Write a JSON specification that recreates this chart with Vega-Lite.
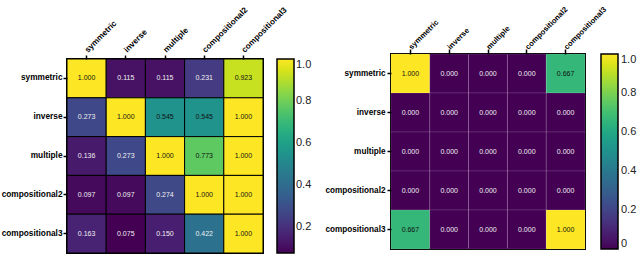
{
  "$schema": "https://vega.github.io/schema/vega-lite/v6.json",
  "padding": {"left": 0, "top": 0, "right": 0, "bottom": 0},
  "background": "white",
  "config": {
    "font": "Liberation Sans",
    "view": {"stroke": "black", "strokeWidth": 2},
    "axis": {"labelFont": "Liberation Sans", "labelFontWeight": "bold", "labelColor": "black", "tickColor": "black", "tickWidth": 1.5, "domain": false, "title": null, "grid": false},
    "legend": {"labelFont": "Liberation Sans", "labelFontSize": 11, "labelColor": "#222", "gradientStrokeColor": "black", "gradientStrokeWidth": 1.5, "gradientThickness": 17, "gradientLength": 195, "labelOffset": 5, "padding": 0, "title": null}
  },
  "datasets": {
    "left": [
      {"row": "symmetric", "col": "symmetric", "v": 1.000},
      {"row": "symmetric", "col": "inverse", "v": 0.115},
      {"row": "symmetric", "col": "multiple", "v": 0.115},
      {"row": "symmetric", "col": "compositional2", "v": 0.231},
      {"row": "symmetric", "col": "compositional3", "v": 0.923},
      {"row": "inverse", "col": "symmetric", "v": 0.273},
      {"row": "inverse", "col": "inverse", "v": 1.000},
      {"row": "inverse", "col": "multiple", "v": 0.545},
      {"row": "inverse", "col": "compositional2", "v": 0.545},
      {"row": "inverse", "col": "compositional3", "v": 1.000},
      {"row": "multiple", "col": "symmetric", "v": 0.136},
      {"row": "multiple", "col": "inverse", "v": 0.273},
      {"row": "multiple", "col": "multiple", "v": 1.000},
      {"row": "multiple", "col": "compositional2", "v": 0.773},
      {"row": "multiple", "col": "compositional3", "v": 1.000},
      {"row": "compositional2", "col": "symmetric", "v": 0.097},
      {"row": "compositional2", "col": "inverse", "v": 0.097},
      {"row": "compositional2", "col": "multiple", "v": 0.274},
      {"row": "compositional2", "col": "compositional2", "v": 1.000},
      {"row": "compositional2", "col": "compositional3", "v": 1.000},
      {"row": "compositional3", "col": "symmetric", "v": 0.163},
      {"row": "compositional3", "col": "inverse", "v": 0.075},
      {"row": "compositional3", "col": "multiple", "v": 0.150},
      {"row": "compositional3", "col": "compositional2", "v": 0.422},
      {"row": "compositional3", "col": "compositional3", "v": 1.000}
    ],
    "right": [
      {"row": "symmetric", "col": "symmetric", "v": 1.000},
      {"row": "symmetric", "col": "inverse", "v": 0},
      {"row": "symmetric", "col": "multiple", "v": 0},
      {"row": "symmetric", "col": "compositional2", "v": 0},
      {"row": "symmetric", "col": "compositional3", "v": 0.667},
      {"row": "inverse", "col": "symmetric", "v": 0},
      {"row": "inverse", "col": "inverse", "v": 0},
      {"row": "inverse", "col": "multiple", "v": 0},
      {"row": "inverse", "col": "compositional2", "v": 0},
      {"row": "inverse", "col": "compositional3", "v": 0},
      {"row": "multiple", "col": "symmetric", "v": 0},
      {"row": "multiple", "col": "inverse", "v": 0},
      {"row": "multiple", "col": "multiple", "v": 0},
      {"row": "multiple", "col": "compositional2", "v": 0},
      {"row": "multiple", "col": "compositional3", "v": 0},
      {"row": "compositional2", "col": "symmetric", "v": 0},
      {"row": "compositional2", "col": "inverse", "v": 0},
      {"row": "compositional2", "col": "multiple", "v": 0},
      {"row": "compositional2", "col": "compositional2", "v": 0},
      {"row": "compositional2", "col": "compositional3", "v": 0},
      {"row": "compositional3", "col": "symmetric", "v": 0.667},
      {"row": "compositional3", "col": "inverse", "v": 0},
      {"row": "compositional3", "col": "multiple", "v": 0},
      {"row": "compositional3", "col": "compositional2", "v": 0},
      {"row": "compositional3", "col": "compositional3", "v": 1.000}
    ],
    "none": []
  },
  "spacing": 10,
  "hconcat": [
    {
      "spacing": 0,
      "resolve": {"scale": {"color": "independent"}, "legend": {"color": "independent"}},
      "vconcat": [
        {
          "width": 10,
          "height": 1,
          "view": {"stroke": null},
          "data": {"name": "none"},
          "mark": {"type": "rule"},
          "encoding": {}
        },
        {
          "width": 196,
          "height": 194,
          "data": {"name": "left"},
          "encoding": {
            "x": {"field": "col", "type": "nominal", "sort": ["symmetric", "inverse", "multiple", "compositional2", "compositional3"], "axis": {"orient": "top", "labelAngle": -45, "labelAlign": "left", "labelBaseline": "middle", "labelFontSize": 8.2, "tickSize": 4, "labelPadding": 4, "minExtent": 57, "maxExtent": 57}},
            "y": {"field": "row", "type": "nominal", "sort": ["symmetric", "inverse", "multiple", "compositional2", "compositional3"], "axis": {"labelFontSize": 8.3, "tickSize": 4, "labelPadding": 1}}
          },
          "layer": [
            {
              "mark": {"type": "rect", "stroke": "black", "strokeWidth": 1},
              "encoding": {
                "color": {"field": "v", "type": "quantitative", "scale": {"scheme": "viridis", "domain": [0.075, 1]}, "legend": {"offset": 14, "values": [0.2, 0.4, 0.6, 0.8, 1.0], "format": ".1f", "gradientLength": 194}}
              }
            },
            {
              "mark": {"type": "text", "fontSize": 7},
              "encoding": {
                "text": {"field": "v", "type": "quantitative", "format": ".3f"},
                "color": {"condition": {"test": "datum.v > 0.5", "value": "#111111"}, "value": "#f0f0f0"}
              }
            }
          ]
        }
      ]
    },
    {
      "spacing": 0,
      "resolve": {"scale": {"color": "independent"}, "legend": {"color": "independent"}},
      "vconcat": [
        {
          "width": 10,
          "height": 1,
          "view": {"stroke": null},
          "data": {"name": "none"},
          "mark": {"type": "rule"},
          "encoding": {}
        },
        {
          "width": 194,
          "height": 195,
          "data": {"name": "right"},
          "encoding": {
            "x": {"field": "col", "type": "nominal", "sort": ["symmetric", "inverse", "multiple", "compositional2", "compositional3"], "axis": {"orient": "top", "labelAngle": -45, "labelAlign": "left", "labelBaseline": "middle", "labelFontSize": 7.7, "tickSize": 5, "labelPadding": 1, "minExtent": 52, "maxExtent": 52}},
            "y": {"field": "row", "type": "nominal", "sort": ["symmetric", "inverse", "multiple", "compositional2", "compositional3"], "axis": {"labelFontSize": 8.2, "tickSize": 4, "labelPadding": 2}}
          },
          "layer": [
            {
              "mark": {"type": "rect", "stroke": "white", "strokeOpacity": 0.12, "strokeWidth": 1},
              "encoding": {
                "color": {"field": "v", "type": "quantitative", "scale": {"scheme": "viridis", "domain": [0, 1]}, "legend": {"offset": 16, "labelOffset": 3, "values": [0, 0.2, 0.4, 0.6, 0.8, 1.0], "labelExpr": "datum.value == 0 ? '0' : format(datum.value, '.1f')"}}
              }
            },
            {
              "mark": {"type": "text", "fontSize": 7},
              "encoding": {
                "text": {"field": "v", "type": "quantitative", "format": ".3f"},
                "color": {"condition": {"test": "datum.v > 0.5", "value": "#111111"}, "value": "#f0f0f0"}
              }
            }
          ]
        }
      ]
    }
  ],
  "resolve": {"scale": {"color": "independent"}}
}
